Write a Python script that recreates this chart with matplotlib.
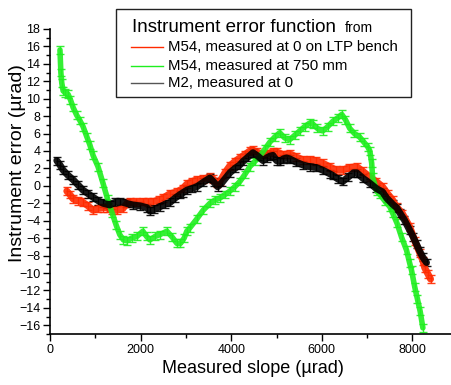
import matplotlib
matplotlib.use("Agg")
import matplotlib.pyplot as plt
from matplotlib.lines import Line2D
from matplotlib.patches import Rectangle
from matplotlib.ticker import MultipleLocator

plt.rcParams['font.family'] = ['Liberation Sans', 'DejaVu Sans']

# ---- data ----
green_x = [220, 240, 260, 290, 340, 400, 450, 510, 590, 660, 730, 815, 880, 950, 1060, 1170,
           1270, 1370, 1460, 1540, 1620, 1700, 1800, 1920, 2050, 2130, 2205, 2320, 2425, 2580,
           2700, 2800, 2880, 2960, 3020, 3090, 3240, 3380, 3530, 3650, 3750, 3860, 3970, 4080,
           4190, 4300, 4410, 4520, 4630, 4740, 4850, 4960, 5070, 5180, 5290, 5400, 5510, 5620,
           5730, 5800, 5900, 6020, 6130, 6240, 6350, 6440, 6520, 6615, 6720, 6835, 6930, 7010,
           7060, 7100, 7120, 7210, 7280, 7400, 7500, 7560, 7660, 7760, 7870, 7940, 7980, 8050,
           8110, 8170, 8230]
green_y = [15.6, 13.0, 11.8, 10.9, 10.7, 10.5, 9.9, 9.0, 8.1, 7.5, 6.8, 5.6, 4.7, 3.5, 2.2, 0.3,
           -1.5, -3.1, -4.5, -5.6, -6.2, -6.3, -6.0, -5.8, -5.2, -5.8, -6.2, -5.8, -5.6, -5.2,
           -5.9, -6.6, -6.6, -6.0, -5.2, -4.8, -3.8, -2.8, -2.0, -1.6, -1.4, -1.0, -0.6, -0.1,
           0.5, 1.3, 2.2, 2.8, 3.4, 4.2, 5.0, 5.6, 6.1, 5.5, 5.3, 5.8, 6.3, 6.8,
           7.2, 7.1, 6.6, 6.3, 6.8, 7.4, 7.8, 8.2, 7.6, 6.6, 6.0, 5.6, 5.0, 4.5,
           4.0, 2.6, 1.0, -0.6, -1.0, -1.8, -2.4, -3.1, -4.3, -5.9, -7.4, -8.9, -9.7, -11.6,
           -13.0, -14.4, -16.3]

red_x = [370, 440, 510, 620, 730, 840, 950, 1060, 1170, 1250, 1370, 1480, 1610, 1700, 1760,
         1900, 2050, 2160, 2280, 2400, 2490, 2650, 2800, 2930, 3020, 3130, 3240, 3380, 3530,
         3600, 3680, 3750, 3860, 3970, 4080, 4190, 4300, 4410, 4480, 4560, 4700, 4800, 4920,
         5000, 5140, 5290, 5440, 5580, 5730, 5880, 6020, 6170, 6320, 6460, 6600, 6770, 6900,
         7060, 7200, 7340, 7450, 7560, 7650, 7780, 7940, 8050, 8160, 8230, 8270, 8340, 8400]
red_y = [-0.6, -1.0, -1.5, -1.7, -1.9, -2.3, -2.8, -2.6, -2.5, -2.5, -2.8, -2.8, -2.6, -2.0, -1.8,
         -1.9, -1.8, -1.9, -1.8, -1.6, -1.4, -0.9, -0.7, -0.3, 0.2, 0.5, 0.7, 0.8, 1.0,
         0.8, 0.3, 0.5, 1.5, 2.3, 2.8, 3.2, 3.6, 4.0, 4.1, 3.9, 3.6, 3.7, 3.9,
         3.9, 3.6, 3.7, 3.3, 3.0, 3.0, 2.9, 2.6, 2.2, 1.8, 1.8, 2.1, 2.2, 1.7,
         1.0, 0.5, -0.1, -0.9, -1.6, -2.4, -3.2, -4.7, -6.3, -7.7, -8.6, -9.4, -10.1, -10.7]

black_x = [150, 220, 290, 400, 510, 620, 730, 840, 950, 1060, 1170, 1250, 1320, 1430, 1540,
           1680, 1830, 1990, 2140, 2205, 2300, 2425, 2540, 2650, 2760, 2870, 2930, 3020, 3130,
           3240, 3380, 3530, 3620, 3700, 3800, 3970, 4080, 4190, 4260, 4370, 4480, 4590, 4700,
           4780, 4850, 4920, 5000, 5070, 5150, 5220, 5290, 5440, 5580, 5730, 5880, 6020, 6170,
           6240, 6350, 6460, 6580, 6700, 6770, 6900, 7060, 7200, 7340, 7430, 7560, 7650, 7720,
           7820, 7940, 8020, 8090, 8160, 8230, 8310]
black_y = [2.9, 2.4, 1.8, 1.2, 0.7, 0.1, -0.5, -0.9, -1.3, -1.7, -2.0, -2.1, -2.2, -1.9, -1.8,
           -2.0, -2.2, -2.3, -2.5, -2.9, -2.7, -2.4, -2.1, -1.9, -1.4, -1.0, -0.8, -0.5, -0.3,
           -0.1, 0.4, 0.9, 0.4, -0.1, 0.4, 1.5, 2.0, 2.4, 2.8, 3.3, 3.8, 3.4, 2.9,
           3.2, 3.4, 3.5, 2.9, 2.8, 3.1, 3.2, 3.1, 2.7, 2.4, 2.2, 2.1, 1.8, 1.4,
           1.2, 0.8, 0.5, 1.0, 1.5, 1.5, 0.9, 0.3, -0.3, -0.7, -1.4, -2.1, -2.5, -3.1,
           -3.9, -5.1, -5.9, -6.7, -7.5, -8.2, -8.8]

err = 0.45

legend_title = "Instrument error function"
legend_from = "from"
labels = ["M54, measured at 0 on LTP bench", "M54, measured at 750 mm", "M2, measured at 0"]

red_c = '#ff2a00'
green_c = '#1fee1f'
black_c = '#000000'

W, H = 451, 385
fig = plt.figure(figsize=(W / 100, H / 100), dpi=100)
ax = fig.add_axes([50 / W, 1 - 334 / H, 1 - 50 / W + 0.01, (334 - 29) / H])

for xs, ys, c, lw in [(red_x, red_y, red_c, 5), (green_x, green_y, green_c, 4),
                      (black_x, black_y, black_c, 5)]:
    ax.errorbar(xs, ys, yerr=err, color=c, lw=lw, elinewidth=1.0, capsize=3,
                capthick=1.0, alpha=0.9, solid_capstyle='round')

ax.set_xlim(0, 8950)
ax.set_ylim(-17, 18)
ax.xaxis.set_major_locator(MultipleLocator(2000))
ax.xaxis.set_minor_locator(MultipleLocator(1000))
ax.yaxis.set_major_locator(MultipleLocator(2))
ax.yaxis.set_minor_locator(MultipleLocator(1))
ax.spines['top'].set_visible(False)
ax.spines['right'].set_visible(False)
for s in ['left', 'bottom']:
    ax.spines[s].set_linewidth(1.2)
ax.tick_params(which='major', length=5, width=1.0, labelsize=9, direction='out', pad=2)
ax.tick_params(which='minor', length=3, width=1.0, direction='out')
ax.set_xlabel("Measured slope (µrad)", fontsize=13, labelpad=3)
ax.set_ylabel("Instrument error (µrad)", fontsize=14)
axw_px = ax.get_position().width * W
ax.yaxis.set_label_coords((26 - 50) / axw_px, 0.56)

# ---- legend box (figure pixel coords) ----
def fx(px):
    return px / W

def fy(py):
    return 1 - py / H

fig.add_artist(Rectangle((fx(116), fy(97)), fx(411) - fx(116), fy(9) - fy(97),
                         transform=fig.transFigure, fill=True, facecolor='white',
                         edgecolor='#222222', lw=1.0, zorder=5))
fig.text(fx(132), fy(32), legend_title, fontsize=13.5, ha='left', va='baseline', zorder=6)
fig.text(fx(345), fy(32), legend_from, fontsize=10, ha='left', va='baseline', zorder=6)
for yy, lab, c in zip([47, 66, 83], labels, [red_c, green_c, '#555555']):
    fig.add_artist(Line2D([fx(131), fx(163)], [fy(yy), fy(yy)], color=c, lw=1.0,
                          transform=fig.transFigure, zorder=6))
    fig.text(fx(168), fy(yy), lab, fontsize=10.8, ha='left', va='center', zorder=6)

fig.savefig("out.png", dpi=100)
